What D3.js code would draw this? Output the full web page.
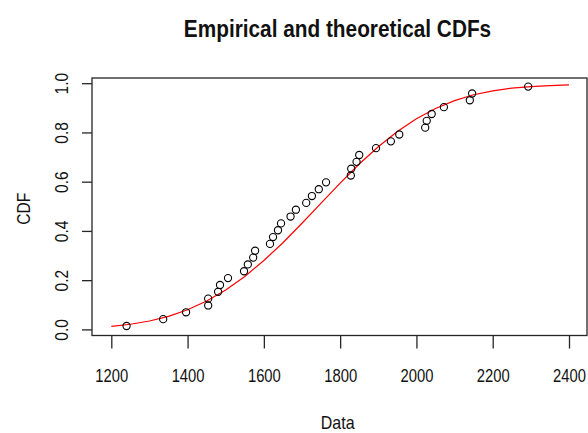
<!DOCTYPE html>
<html>
<head>
<meta charset="utf-8">
<script src="https://cdn.jsdelivr.net/npm/d3@7/dist/d3.min.js"></script>
<style>
  html, body { margin: 0; padding: 0; background: #fff; }
  svg { display: block; }
  text { font-family: "Liberation Sans", Arial, Helvetica, sans-serif; fill: #111; }
</style>
</head>
<body>
<svg id="chart" width="588" height="433"></svg>
<script>
// Observed sample, sorted
const observations = [
  1240, 1336, 1396, 1454, 1454, 1480, 1485, 1506, 1548, 1558, 1572, 1577,
  1616, 1624, 1637, 1645, 1670, 1684, 1711, 1726, 1744, 1763, 1828, 1829,
  1843, 1850, 1894, 1933, 1955, 2023, 2027, 2040, 2072, 2140, 2146, 2293
];

// Fitted (theoretical) CDF, sampled along the data axis
const curveX = [
  1200, 1250, 1300, 1350, 1400, 1450, 1500, 1550, 1600, 1650, 1700, 1750, 1800,
  1850, 1900, 1950, 2000, 2050, 2100, 2150, 2200, 2250, 2300, 2350, 2400
];
const curveF = [
  0.012, 0.021, 0.034, 0.053, 0.080, 0.115, 0.160, 0.215, 0.280, 0.352, 0.431, 0.513, 0.594,
  0.672, 0.742, 0.804, 0.856, 0.897, 0.929, 0.953, 0.969, 0.980, 0.986, 0.990, 0.993
];

// Axis ticks
const xTicks = [1200, 1400, 1600, 1800, 2000, 2200, 2400];
const yTicks = [0, 0.2, 0.4, 0.6, 0.8, 1.0];
const yTickLabels = ["0.0", "0.2", "0.4", "0.6", "0.8", "1.0"];

const svg = d3.select("#chart");

// Plot region
const box = { left: 92, right: 587, top: 78, bottom: 335.5 };

const x = d3.scaleLinear().domain([1200, 2400]).range([111.3, 569]);
const y = d3.scaleLinear().domain([0, 1]).range([329.4, 83.2]);

const ink = "#262626";

// Empirical plotting positions (i - 0.5) / n
const n = observations.length;
const ecdf = observations.map((v, i) => ({ x: v, p: (i + 0.5) / n }));

// Theoretical curve
const line = d3.line()
  .x(d => x(d[0]))
  .y(d => y(d[1]));

svg.append("path")
  .datum(curveX.map((v, i) => [v, curveF[i]]))
  .attr("d", line)
  .attr("fill", "none")
  .attr("stroke", "#ff0000")
  .attr("stroke-width", 1.2);

// Empirical points
svg.append("g")
  .selectAll("circle")
  .data(ecdf)
  .join("circle")
  .attr("cx", d => x(d.x))
  .attr("cy", d => y(d.p))
  .attr("r", 3.6)
  .attr("fill", "none")
  .attr("stroke", "#000")
  .attr("stroke-width", 1.1);

// Frame
svg.append("rect")
  .attr("x", box.left)
  .attr("y", box.top)
  .attr("width", box.right - box.left)
  .attr("height", box.bottom - box.top)
  .attr("fill", "none")
  .attr("stroke", ink)
  .attr("stroke-width", 1.3);

// Bottom axis
const xAxis = svg.append("g")
  .attr("transform", `translate(0,${box.bottom})`)
  .call(d3.axisBottom(x).tickValues(xTicks).tickSize(13).tickFormat(d3.format("d")));
xAxis.select(".domain").remove();
xAxis.selectAll(".tick line").attr("stroke", ink).attr("stroke-width", 1.3);
xAxis.selectAll(".tick text")
  .attr("y", null).attr("dy", null)
  .attr("transform", "translate(0,46.5) scale(1,1.3)")
  .style("font-size", "14.8px");

// Left axis
const yAxis = svg.append("g")
  .attr("transform", `translate(${box.left},0)`)
  .call(d3.axisLeft(y).tickValues(yTicks).tickSize(10).tickFormat((d, i) => yTickLabels[i]));
yAxis.select(".domain").remove();
yAxis.selectAll(".tick line").attr("stroke", ink).attr("stroke-width", 1.3);
yAxis.selectAll(".tick text")
  .attr("x", null).attr("dy", null)
  .attr("text-anchor", "middle")
  .attr("transform", "translate(-24.5,0) rotate(-90) scale(1,1.15)")
  .style("font-size", "15.5px");

// Title
svg.append("text")
  .attr("transform", "translate(337.5,37.3) scale(1,1.15)")
  .attr("text-anchor", "middle")
  .style("font-size", "20.8px")
  .style("font-weight", "bold")
  .text("Empirical and theoretical CDFs");

// Axis titles
svg.append("text")
  .attr("transform", "translate(337.7,429) scale(1,1.15)")
  .attr("text-anchor", "middle")
  .style("font-size", "16px")
  .text("Data");

svg.append("text")
  .attr("transform", "translate(29.5,208.7) rotate(-90) scale(1,1.2)")
  .attr("text-anchor", "middle")
  .style("font-size", "15.6px")
  .text("CDF");
</script>
</body>
</html>
